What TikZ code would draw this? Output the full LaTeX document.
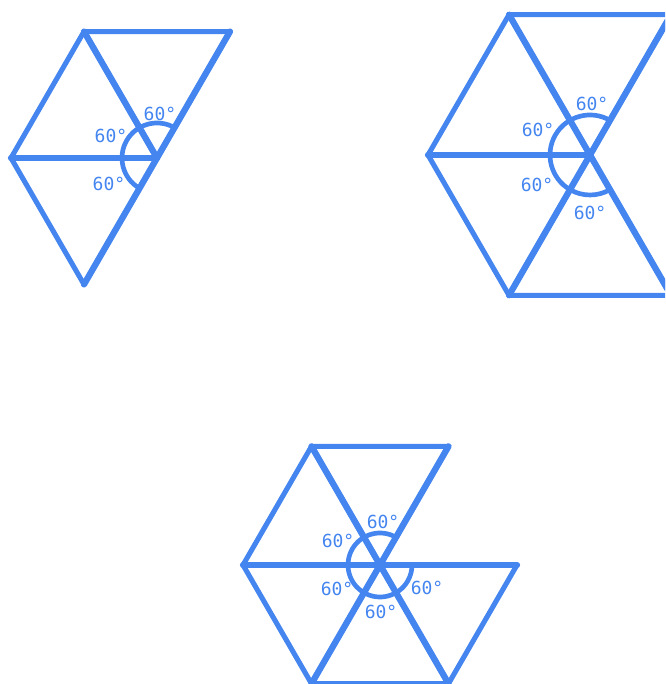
\documentclass[tikz,border=0pt]{standalone}
\usepackage{fontspec}
\newfontfamily\monofont{DejaVu Sans Mono}
\usetikzlibrary{calc}

\definecolor{tileblue}{RGB}{68,133,240}

\begin{document}
\begin{tikzpicture}[
    x=0.75pt, y=0.75pt,
    edge/.style={draw=tileblue, line width=3.8pt, line join=round, line cap=round},
    spoke/.style={draw=tileblue, line width=4.7pt, line cap=round},
    angmark/.style={draw=tileblue, line width=3.5pt},
    lbl/.style={text=tileblue, font=\monofont\fontsize{13.5}{15}\selectfont, inner sep=0pt}
]
\useasboundingbox (0,0) rectangle (665,684);
\clip (0,0) rectangle (665,684);

% centres of the three fans
\coordinate (c1) at (157,526);
\coordinate (c2) at (590,529);
\coordinate (c3) at (380,119);

% fan of three triangles
\foreach \a in {60,120,180} {
    \draw[edge] (c1) -- ++(\a:146) -- ++(\a+120:146) -- cycle;
}
\foreach \a in {60,120,180,240} \draw[spoke] (c1) -- ++(\a:146);
\draw[angmark] (c1) ++(60:35) arc[start angle=60, end angle=240, radius=35];
\node[lbl] (l1a) at ($(c1)+(3,44)$) {60°};
\node[lbl] (l1b) at ($(c1)+(-46,22)$) {60°};
\node[lbl] (l1c) at ($(c1)+(-48,-26)$) {60°};

% fan of four triangles
\foreach \a in {60,120,180,240} {
    \draw[edge] (c2) -- ++(\a:162) -- ++(\a+120:162) -- cycle;
}
\foreach \a in {60,120,180,240,300} \draw[spoke] (c2) -- ++(\a:162);
\draw[angmark] (c2) ++(60:40) arc[start angle=60, end angle=300, radius=40];
\node[lbl] (l2a) at ($(c2)+(2,51)$) {60°};
\node[lbl] (l2b) at ($(c2)+(-52,25)$) {60°};
\node[lbl] (l2c) at ($(c2)+(-53,-30)$) {60°};
\node[lbl] (l2d) at ($(c2)+(0,-58)$) {60°};

% fan of five triangles
\foreach \a in {60,120,180,240,300} {
    \draw[edge] (c3) -- ++(\a:137) -- ++(\a+120:137) -- cycle;
}
\foreach \a in {60,120,180,240,300,360} \draw[spoke] (c3) -- ++(\a:137);
\draw[angmark] (c3) ++(60:32) arc[start angle=60, end angle=360, radius=32];
\node[lbl] (l3a) at ($(c3)+(3,43)$) {60°};
\node[lbl] (l3b) at ($(c3)+(-42,24)$) {60°};
\node[lbl] (l3c) at ($(c3)+(-43,-24)$) {60°};
\node[lbl] (l3d) at ($(c3)+(1,-47)$) {60°};
\node[lbl] (l3e) at ($(c3)+(47,-23)$) {60°};

\end{tikzpicture}
\end{document}
